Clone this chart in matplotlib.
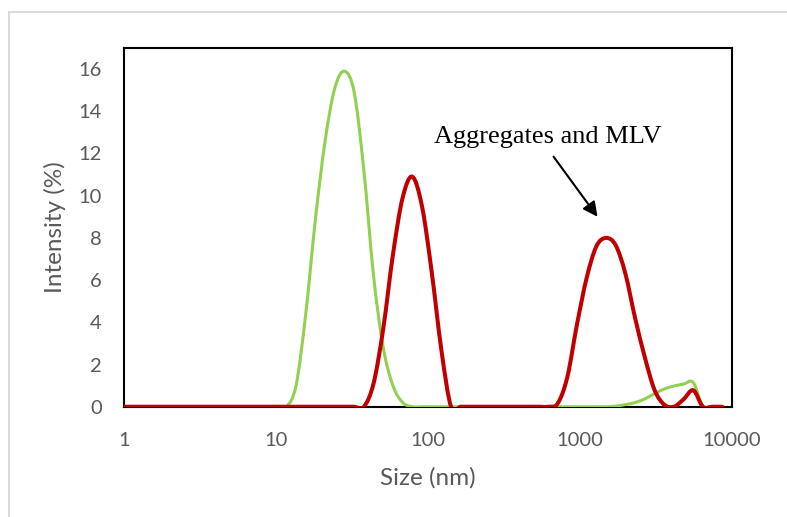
import numpy as np
import matplotlib
matplotlib.use("Agg")
import matplotlib.pyplot as plt
from matplotlib.path import Path
from matplotlib.patches import PathPatch, Rectangle
from matplotlib.ticker import NullLocator

plt.rcParams["font.family"] = ["Lato", "DejaVu Sans"]

# size bins (nm)
sizes = [0.4, 0.4632, 0.5365, 0.6213, 0.7195, 0.8332, 0.9649, 1.117, 1.294, 1.499,
         1.736, 2.010, 2.328, 2.696, 3.122, 3.615, 4.187, 4.849, 5.615, 6.503,
         7.531, 8.721, 10.10, 11.70, 13.54, 15.69, 18.17, 21.04, 24.36, 28.21,
         32.67, 37.84, 43.82, 50.75, 58.77, 68.06, 78.82, 91.28, 105.7, 122.4,
         141.8, 164.2, 190.1, 220.2, 255.0, 295.3, 342.0, 396.1, 458.7, 531.2,
         615.1, 712.4, 825.0, 955.4, 1106, 1281, 1484, 1718, 1990, 2305,
         2669, 3091, 3580, 4145, 4801, 5560, 6439, 7456, 8635]

green = [0, 0, 0, 0, 0, 0, 0, 0, 0, 0,
         0, 0, 0, 0, 0, 0, 0, 0, 0, 0,
         0, 0, 0, 0, 1.0, 4.4, 8.9, 12.6, 15.1, 15.9,
         14.9, 11.2, 6.2, 2.8, 1.0, 0.2, 0, 0, 0, 0,
         0, 0, 0, 0, 0, 0, 0, 0, 0, 0,
         0, 0, 0, 0, 0, 0, 0, 0.03, 0.1, 0.2,
         0.37, 0.62, 0.84, 0.98, 1.07, 1.15, 0, 0, 0]

red = [0, 0, 0, 0, 0, 0, 0, 0, 0, 0,
       0, 0, 0, 0, 0, 0, 0, 0, 0, 0,
       0, 0, 0, 0, 0, 0, 0, 0, 0, 0,
       0, 0, 1.1, 3.7, 7.2, 9.9, 10.9, 9.5, 6.4, 2.7,
       0, 0, 0, 0, 0, 0, 0, 0, 0, 0,
       0, 0.15, 1.4, 3.9, 6.1, 7.6, 8.0, 7.65, 6.3, 4.2,
       2.35, 0.8, 0.1, 0, 0.35, 0.78, 0, 0, 0]

xticks = [1, 10, 100, 1000, 10000]
xtick_labels = ["1", "10", "100", "1000", "10000"]
yticks = [0, 2, 4, 6, 8, 10, 12, 14, 16]


def smooth_path(xs, ys):
    # excel-like smoothed line (catmull-rom as bezier, in log-x space)
    lx = np.log10(xs)
    y = np.asarray(ys, dtype=float)
    n = len(lx)
    verts = [(lx[0], y[0])]
    codes = [Path.MOVETO]
    for i in range(n - 1):
        a = i - 1 if i > 0 else i
        b = i + 2 if i + 2 < n else i + 1
        c1 = (lx[i] + (lx[i + 1] - lx[a]) / 6, y[i] + (y[i + 1] - y[a]) / 6)
        c2 = (lx[i + 1] - (lx[b] - lx[i]) / 6, y[i + 1] - (y[b] - y[i]) / 6)
        verts += [c1, c2, (lx[i + 1], y[i + 1])]
        codes += [Path.CURVE4] * 3
    verts = np.array(verts)
    verts[:, 0] = 10 ** verts[:, 0]
    return Path(verts, codes)


fig = plt.figure(figsize=(7.87, 5.17), dpi=100)
ax = fig.add_axes([0.1576, 0.2133, 0.7725, 0.6939])

ax.set_xscale("log")
ax.set_xlim(1, 10000)
ax.set_ylim(0, 17)

ax.add_patch(PathPatch(smooth_path(sizes, green), fill=False,
                       edgecolor="#92D050", lw=2.2, capstyle="round", zorder=3))
ax.add_patch(PathPatch(smooth_path(sizes, red), fill=False,
                       edgecolor="#C00000", lw=2.9, capstyle="round", zorder=4))

ax.set_xticks(xticks)
ax.set_xticklabels(xtick_labels)
ax.xaxis.set_minor_locator(NullLocator())
ax.set_yticks(yticks)
ax.tick_params(axis="both", length=0, labelsize=14.5, colors="#595959")
ax.tick_params(axis="x", pad=18)
ax.tick_params(axis="y", pad=16)

for s in ax.spines.values():
    s.set_linewidth(1.5)
    s.set_color("black")

ax.set_xlabel("Size (nm)", fontsize=17.5, color="#595959")
ax.xaxis.set_label_coords(0.5, -0.199)
ax.xaxis.label.set_verticalalignment("center")
ax.set_ylabel("Intensity (%)", fontsize=17.5, color="#595959")
ax.yaxis.set_label_coords(-0.1135, 0.5)
ax.yaxis.label.set_verticalalignment("center")

# annotation
ax.text(618, 12.8, "Aggregates and MLV", ha="center", va="center",
        family="Liberation Serif", fontsize=19, color="black")
ax.annotate("", xy=(1304, 9.0), xytext=(670, 11.85),
            arrowprops=dict(arrowstyle="-|>", color="black", lw=1.5,
                            mutation_scale=22, shrinkA=0, shrinkB=0))

# chart area border
fig.add_artist(Rectangle((8.5 / 787, -0.1), 1.2, 0.1 + (517 - 11.5) / 517,
                         transform=fig.transFigure, fill=False,
                         edgecolor="#D9D9D9", lw=1.4, clip_on=False))

fig.savefig("out.png", dpi=100)
